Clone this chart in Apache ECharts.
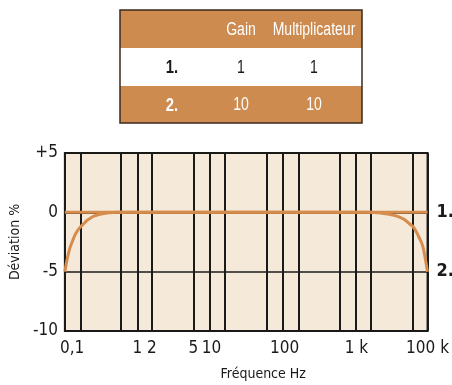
<!DOCTYPE html>
<html><head><meta charset="utf-8">
<script src="https://cdn.jsdelivr.net/npm/echarts@6/dist/echarts.min.js"></script>
<style>html,body{margin:0;padding:0;background:#fff}#c{width:452px;height:385px}</style>
</head><body><div id="c"></div>
<script>
// x is measured in "decade units" of the schematic frequency scale (0 = 0,1 Hz ... 5 = 100 k)
const xTickPositions = [0.1, 1, 1.2, 1.77, 2.02, 3.03, 4.02, 5];
const xTickLabels = ['0,1', '1', '2', '5', '10', '100', '1 k', '100 k'];
const xGridLines = [0.22, 0.77, 1, 1.2, 1.77, 2, 2.2, 2.79, 3.01, 3.22, 3.79, 4.01, 4.22, 4.79, 5];
const yTicks = [-10, -5, 0, 5];
const yTickLabels = ['-10', '-5', '0', '+5'];
const seriesNames = ['1.', '2.'];
const series1 = [[0, 0], [5, 0]];
const series2 = [[0,-5],[0.02,-4.3],[0.04,-3.7],[0.07,-3.0],[0.1,-2.5],[0.14,-1.9],[0.18,-1.5],[0.22,-1.2],[0.27,-0.9],[0.31,-0.66],[0.36,-0.45],[0.4,-0.32],[0.47,-0.18],[0.54,-0.1],[0.62,-0.04],[0.7,0],[4.2,0],[4.35,-0.06],[4.45,-0.15],[4.55,-0.28],[4.62,-0.42],[4.68,-0.6],[4.75,-0.96],[4.8,-1.2],[4.85,-1.7],[4.89,-2.2],[4.92,-2.6],[4.94,-3.0],[4.96,-3.6],[4.98,-4.3],[5,-5]];
const tableHeader = ['', 'Gain', 'Multiplicateur'];
const tableRows = [['1.', '1', '1'], ['2.', '10', '10']];

const FONT = '"DejaVu Sans Condensed", "Liberation Sans", sans-serif';
const BROWN = '#cd8b4f';
const LINE = '#d68c4c';

// table graphic
const tX = 120, tY = 10, tW = 242, rowH = [38, 38, 37];
const colX = [172, 241, 314];
const g = [];
let y = tY;
const allRows = [tableHeader].concat(tableRows);
allRows.forEach((row, ri) => {
  const h = rowH[ri];
  const brown = ri % 2 === 0;
  g.push({type: 'rect', shape: {x: tX, y: y, width: tW, height: h}, style: {fill: brown ? BROWN : '#ffffff'}, silent: true});
  row.forEach((txt, ci) => {
    if (!txt) return;
    g.push({type: 'text', x: colX[ci], y: y + h / 2 + 1, scaleX: 0.78, style: {
      text: txt, align: 'center', verticalAlign: 'middle',
      fill: brown ? '#ffffff' : '#1a1a1a',
      font: (ci === 0 ? 'bold 19px ' : '18px ') + '"Liberation Sans", sans-serif'
    }, silent: true});
  });
  y += h;
});
g.push({type: 'rect', shape: {x: tX, y: tY, width: tW, height: y - tY}, style: {fill: 'none', stroke: '#3b2a1e', lineWidth: 1.5}, silent: true});

const chart = echarts.init(document.getElementById('c'));
chart.setOption({
  animation: false,
  backgroundColor: '#ffffff',
  graphic: g,
  grid: {left: 64, right: 24, top: 153, bottom: 54, show: true, backgroundColor: '#f5e9da', borderColor: '#1a1a1a', borderWidth: 2},
  xAxis: {
    type: 'value', min: 0, max: 5,
    axisLine: {show: true, lineStyle: {color: '#1a1a1a', width: 2}},
    axisTick: {show: false},
    splitLine: {show: false},
    axisLabel: {
      customValues: xTickPositions,
      formatter: v => { const i = xTickPositions.findIndex(p => Math.abs(p - v) < 1e-6); return i >= 0 ? xTickLabels[i] : ''; },
      fontFamily: FONT, fontSize: 17, color: '#1a1a1a', margin: 9, hideOverlap: false, showMinLabel: true, showMaxLabel: true
    },
    name: 'Fréquence Hz', nameLocation: 'middle', nameGap: 36,
    nameTextStyle: {fontFamily: FONT, fontSize: 14, color: '#1a1a1a', padding: [0, 0, 0, 34]}
  },
  yAxis: {
    type: 'value', min: -10, max: 5, interval: 5,
    axisLine: {show: true, lineStyle: {color: '#1a1a1a', width: 2}},
    axisTick: {show: false},
    splitLine: {show: true, lineStyle: {color: '#1a1a1a', width: 1.5}},
    axisLabel: {
      formatter: v => { const i = yTicks.indexOf(v); return i >= 0 ? yTickLabels[i] : ''; },
      fontFamily: FONT, fontSize: 17, color: '#1a1a1a', margin: 7
    },
    name: 'Déviation %', nameLocation: 'middle', nameGap: 42,
    nameTextStyle: {fontFamily: FONT, fontSize: 14, color: '#1a1a1a'}
  },
  series: [
    {
      name: seriesNames[0], type: 'line', data: series1, showSymbol: false, z: 5,
      lineStyle: {color: LINE, width: 3},
      endLabel: {show: true, formatter: '{a}', fontFamily: FONT, fontWeight: 'bold', fontSize: 18, color: '#1a1a1a', distance: 9},
      markLine: {
        silent: true, symbol: 'none', label: {show: false}, z: 3,
        lineStyle: {color: '#1a1a1a', width: 2, type: 'solid'},
        data: xGridLines.map(v => ({xAxis: v}))
      }
    },
    {
      name: seriesNames[1], type: 'line', data: series2, showSymbol: false, smooth: 0.3, z: 6,
      lineStyle: {color: LINE, width: 3},
      endLabel: {show: true, formatter: '{a}', fontFamily: FONT, fontWeight: 'bold', fontSize: 18, color: '#1a1a1a', distance: 9}
    }
  ]
});
</script></body></html>
